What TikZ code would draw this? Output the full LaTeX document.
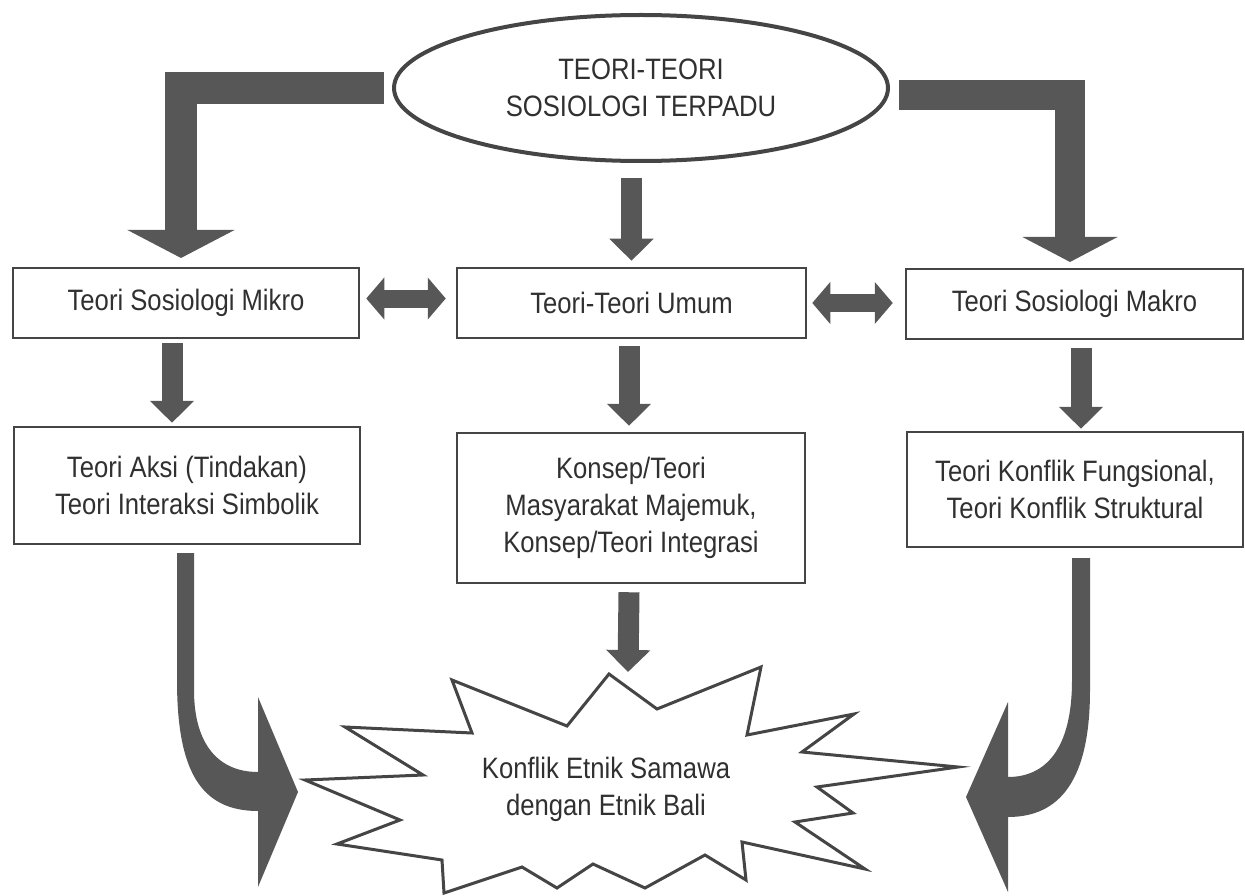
\documentclass[tikz,border=0pt]{standalone}
\usepackage{fontspec}
\setmainfont{Liberation Sans}[FakeStretch=0.87]
\usetikzlibrary{arrows.meta,shapes.geometric,calc}
\definecolor{ink}{HTML}{303030}
\definecolor{edge}{HTML}{454545}
\definecolor{arr}{HTML}{575757}
\begin{document}
\begin{tikzpicture}[x=1pt,y=-1pt,
  txt/.style={text=ink,font=\fontsize{29.5}{37}\selectfont,align=center,inner sep=0pt},
  box/.style={txt,draw=edge,line width=2.5pt},
  dnarrow/.style={arr,line width=21pt,-{Triangle[width=43pt,length=22pt]}},
  dblarrow/.style={arr,line width=18pt,{Triangle[width=41pt,length=18pt]}-{Triangle[width=41pt,length=18pt]}},
  bentarrow/.style={arr,line join=miter,line width=#1},
  curvearrow/.style={fill=arr,draw=none}
]
\useasboundingbox (0,0) rectangle (1245,896);

% top ellipse
\node[txt,draw=edge,line width=4pt,ellipse,minimum width=494pt,minimum height=146pt] (top) at (641,88)
  {TEORI-TEORI\\SOSIOLOGI TERPADU};

% first row
\node[box,minimum width=346pt,minimum height=70pt] (m1) at (186,303) {Teori Sosiologi Mikro};
\node[box,minimum width=349pt,minimum height=70pt] (u1) at (631.5,303) {Teori-Teori Umum};
\node[box,minimum width=337pt,minimum height=70pt] (k1) at (1074.5,304) {Teori Sosiologi Makro};

% second row
\node[box,minimum width=346pt,minimum height=117pt] (m2) at (187,485.5) {Teori Aksi (Tindakan)\\Teori Interaksi Simbolik};
\node[box,minimum width=348pt,minimum height=150pt] (u2) at (631,508) {Konsep/Teori\\Masyarakat Majemuk,\\Konsep/Teori Integrasi};
\node[box,minimum width=336pt,minimum height=115pt] (k2) at (1075,489.5) {Teori Konflik Fungsional,\\Teori Konflik Struktural};

% star
\draw[edge,line width=3pt,line join=miter,fill=white]
  (609,674) -- (657,709) -- (761,667) -- (747,735) -- (854,714) -- (802,752) -- (958,767)
  -- (817,787) -- (853,813) -- (795,822) -- (865,869) -- (742,842) -- (746,880) -- (705,855)
  -- (645,888) -- (593,864) -- (557,888) -- (522,867) -- (444,893) -- (442,860) -- (337,844)
  -- (400,820) -- (305,780) -- (423,775) -- (345,727) -- (472,733) -- (452,680) -- (567,726) -- cycle;
\node[txt] (kf) at (606,789) {Konflik Etnik Samawa\\dengan Etnik Bali};
\coordinate (stip) at (628,672);

% bent arrows from the ellipse
\coordinate (lt) at (181,258);
\coordinate (rt) at (1070,262);
\draw[bentarrow=32pt,-{Triangle[width=106pt,length=28pt]}] ([xshift=-8pt]top.west) -| (lt);
\draw[bentarrow=30pt,-{Triangle[width=94pt,length=25pt]}] ([xshift=9pt,yshift=-7pt]top.east) -| (rt);

% straight down arrows
\draw[dnarrow] ($(top.south -| u1.north)+(0,15)$) -- ([yshift=6pt]u1.north);
\draw[dnarrow] ([xshift=-14pt,yshift=-4pt]m1.south) -- ([xshift=-15pt,yshift=3pt]m2.north);
\draw[dnarrow] ([xshift=-2.5pt,yshift=-7pt]u1.south) -- ([xshift=-2pt,yshift=6pt]u2.north);
\draw[dnarrow] ([xshift=6.5pt,yshift=-8pt]k1.south) -- ([xshift=6pt,yshift=2pt]k2.north);
\draw[dnarrow] ([xshift=-2pt,yshift=-8pt]u2.south) -- (stip);

% double arrows
\draw[dblarrow] ([xshift=6pt,yshift=4.5pt]m1.east) -- ([xshift=-10pt,yshift=4.5pt]u1.west);
\draw[dblarrow] ([xshift=5pt]u1.east) -- ([xshift=-12pt,yshift=1pt]k1.west);

% curved arrows into the star
\coordinate (lc) at (177,553);
\coordinate (rc) at (1072,558);
\fill[curvearrow] (lc) -- (177,680) .. controls (177,770) and (200,811) .. (258,811)
  -- (258,887) -- (298,792) -- (258,697) -- (258,772)
  .. controls (219,772) and (194,745) .. (194,690) -- (194,553) -- cycle;
\fill[curvearrow] (rc) -- (1072,680) .. controls (1072,750) and (1045,777) .. (1008,777)
  -- (1008,702) -- (966,797) -- (1008,892) -- (1008,817)
  .. controls (1060,817) and (1090,780) .. (1090,690) -- (1090,558) -- cycle;
\end{tikzpicture}
\end{document}
